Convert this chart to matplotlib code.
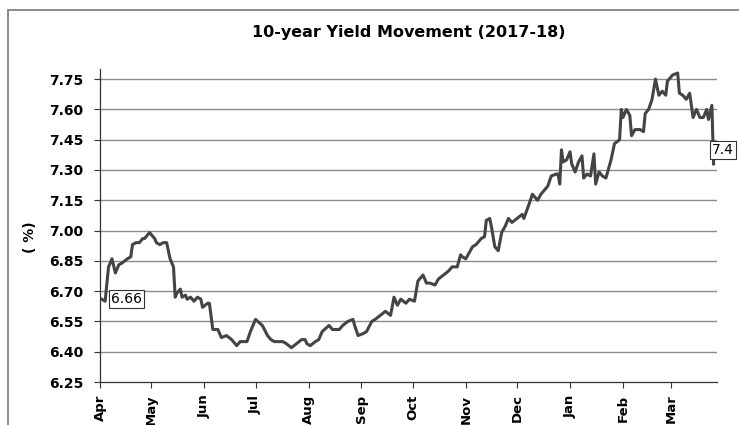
import pandas as pd
import matplotlib
matplotlib.use("Agg")
import matplotlib.pyplot as plt
import matplotlib.dates as mdates
from matplotlib.patches import Rectangle

# ---------------------------------------------------------
# Data
# ---------------------------------------------------------
dates = [
    "2017-04-02", "2017-04-04", "2017-04-06", "2017-04-08", "2017-04-10",
    "2017-04-12", "2017-04-14", "2017-04-17", "2017-04-19", "2017-04-20",
    "2017-04-22", "2017-04-24", "2017-04-26", "2017-04-27", "2017-04-30",
    "2017-05-02", "2017-05-03", "2017-05-04", "2017-05-06", "2017-05-08",
    "2017-05-10", "2017-05-12", "2017-05-14", "2017-05-15", "2017-05-16",
    "2017-05-18", "2017-05-19", "2017-05-21", "2017-05-22", "2017-05-24",
    "2017-05-26", "2017-05-28", "2017-05-30", "2017-05-31", "2017-06-03",
    "2017-06-04", "2017-06-06", "2017-06-09", "2017-06-11", "2017-06-14",
    "2017-06-17", "2017-06-20", "2017-06-22", "2017-06-26", "2017-06-28",
    "2017-06-29", "2017-07-01", "2017-07-05", "2017-07-08", "2017-07-10",
    "2017-07-12", "2017-07-17", "2017-07-19", "2017-07-22", "2017-07-25",
    "2017-07-28", "2017-07-30", "2017-07-31", "2017-08-02", "2017-08-05",
    "2017-08-07", "2017-08-09", "2017-08-13", "2017-08-15", "2017-08-19",
    "2017-08-21", "2017-08-24", "2017-08-27", "2017-08-28", "2017-08-30",
    "2017-09-02", "2017-09-04", "2017-09-07", "2017-09-09", "2017-09-12",
    "2017-09-15", "2017-09-18", "2017-09-20", "2017-09-22", "2017-09-24",
    "2017-09-27", "2017-09-29", "2017-10-02", "2017-10-04", "2017-10-07",
    "2017-10-09", "2017-10-11", "2017-10-14", "2017-10-16", "2017-10-19",
    "2017-10-22", "2017-10-24", "2017-10-27", "2017-10-29", "2017-10-30",
    "2017-11-01", "2017-11-05", "2017-11-07", "2017-11-10", "2017-11-12",
    "2017-11-13", "2017-11-15", "2017-11-16", "2017-11-18", "2017-11-20",
    "2017-11-22", "2017-11-24", "2017-11-26", "2017-11-28", "2017-12-01",
    "2017-12-04", "2017-12-05", "2017-12-08", "2017-12-10", "2017-12-13",
    "2017-12-15", "2017-12-18", "2017-12-19", "2017-12-21", "2017-12-24",
    "2017-12-25", "2017-12-26", "2017-12-27", "2017-12-28", "2017-12-30",
    "2018-01-01", "2018-01-02", "2018-01-04", "2018-01-06", "2018-01-08",
    "2018-01-09", "2018-01-11", "2018-01-13", "2018-01-15", "2018-01-16",
    "2018-01-18", "2018-01-20", "2018-01-22", "2018-01-25", "2018-01-27",
    "2018-01-30", "2018-01-31", "2018-02-01", "2018-02-03", "2018-02-05",
    "2018-02-06", "2018-02-08", "2018-02-11", "2018-02-13", "2018-02-14",
    "2018-02-16", "2018-02-18", "2018-02-20", "2018-02-22", "2018-02-24",
    "2018-02-26", "2018-02-27", "2018-03-02", "2018-03-05", "2018-03-06",
    "2018-03-08", "2018-03-10", "2018-03-12", "2018-03-14", "2018-03-16",
    "2018-03-18", "2018-03-20", "2018-03-22", "2018-03-23", "2018-03-25",
    "2018-03-26",
]

yields = [
    6.66, 6.65, 6.82, 6.86, 6.79,
    6.83, 6.84, 6.86, 6.87, 6.93,
    6.94, 6.94, 6.96, 6.96, 6.99,
    6.97, 6.96, 6.94, 6.93, 6.94,
    6.94, 6.86, 6.82, 6.67, 6.69,
    6.71, 6.67, 6.68, 6.66, 6.67,
    6.65, 6.67, 6.66, 6.62, 6.64,
    6.64, 6.51, 6.51, 6.47, 6.48,
    6.46, 6.43, 6.45, 6.45, 6.50,
    6.52, 6.56, 6.53, 6.48, 6.46,
    6.45, 6.45, 6.44, 6.42, 6.44,
    6.46, 6.46, 6.44, 6.43, 6.45,
    6.46, 6.50, 6.53, 6.51, 6.51,
    6.53, 6.55, 6.56, 6.53, 6.48,
    6.49, 6.50, 6.55, 6.56, 6.58,
    6.60, 6.58, 6.67, 6.63, 6.66,
    6.64, 6.66, 6.65, 6.75, 6.78,
    6.74, 6.74, 6.73, 6.76, 6.78,
    6.80, 6.82, 6.82, 6.88, 6.87,
    6.86, 6.92, 6.93, 6.96, 6.97,
    7.05, 7.06, 7.02, 6.92, 6.90,
    6.99, 7.02, 7.06, 7.04, 7.06,
    7.08, 7.06, 7.13, 7.18, 7.15,
    7.18, 7.21, 7.22, 7.27, 7.28,
    7.28, 7.23, 7.40, 7.34, 7.35,
    7.39, 7.33, 7.29, 7.34, 7.37,
    7.26, 7.28, 7.27, 7.38, 7.23,
    7.29, 7.27, 7.26, 7.35, 7.43,
    7.45, 7.60, 7.56, 7.60, 7.57,
    7.47, 7.50, 7.50, 7.49, 7.58,
    7.60, 7.65, 7.75, 7.67, 7.69,
    7.67, 7.74, 7.77, 7.78, 7.68,
    7.67, 7.65, 7.68, 7.56, 7.60,
    7.56, 7.56, 7.60, 7.55, 7.62,
    7.33,
]

y_ticks = [6.25, 6.40, 6.55, 6.70, 6.85, 7.00, 7.15, 7.30, 7.45, 7.60, 7.75]
start_label = "6.66"
end_label = "7.4"

df = pd.DataFrame({"date": pd.to_datetime(dates), "yield": yields})

# ---------------------------------------------------------
# Plot
# ---------------------------------------------------------
plt.rcParams["font.family"] = "DejaVu Sans"

fig = plt.figure(figsize=(7.39, 4.25), dpi=100)
ax = fig.add_axes([100 / 739, 1 - 382 / 425, 617 / 739, 313 / 425])

for v in y_ticks[1:]:
    ax.axhline(v, color="#8a8a8a", lw=1.0, zorder=1)

ax.plot(df["date"], df["yield"], color="#444444", lw=2.2, zorder=3,
        solid_joinstyle="round")

ax.set_xlim(pd.Timestamp("2017-04-01"), pd.Timestamp("2018-03-28"))
ax.set_ylim(6.25, 7.80)
ax.set_yticks(y_ticks)
ax.set_yticklabels([f"{v:.2f}" for v in y_ticks], fontweight="bold", fontsize=10)

ax.xaxis.set_major_locator(mdates.MonthLocator())
ax.xaxis.set_major_formatter(mdates.DateFormatter("%b"))
for lab in ax.get_xticklabels():
    lab.set_rotation(90)
    lab.set_fontweight("bold")
    lab.set_fontsize(9.5)

ax.tick_params(axis="y", direction="out", length=4, width=0.8, pad=8, color="#333333")
ax.tick_params(axis="x", direction="out", length=4, width=0.8, pad=5, color="#333333")

for side in ["top", "right"]:
    ax.spines[side].set_visible(False)
for side in ["left", "bottom"]:
    ax.spines[side].set_color("#333333")
    ax.spines[side].set_linewidth(0.9)

ax.annotate(start_label, xy=(df["date"].iloc[0], 6.66), xytext=(6.5, 0),
            textcoords="offset points", ha="left", va="center", fontsize=10,
            bbox=dict(boxstyle="square,pad=0.15", fc="white", ec="#333333", lw=0.8),
            zorder=5)
ax.annotate(end_label, xy=(df["date"].iloc[-1], 7.40), xytext=(-1, 0),
            textcoords="offset points", ha="left", va="center", fontsize=10,
            bbox=dict(boxstyle="square,pad=0.15", fc="white", ec="#333333", lw=0.8),
            annotation_clip=False, zorder=5)

fig.text(408.5 / 739, 1 - 33 / 425, "10-year Yield Movement (2017-18)",
         ha="center", va="center", fontsize=11.5, fontweight="bold")
fig.text(30 / 739, 1 - 237 / 425, "( %)", rotation=90, ha="center", va="center",
         fontsize=10, fontweight="bold")

# outer frame of the chart area
fig.add_artist(Rectangle((8 / 739, -0.2), 1.2, 1.2 - 10 / 425,
                         transform=fig.transFigure, fill=False,
                         ec="#777777", lw=1.2, clip_on=False))

fig.savefig("out.png", dpi=100)
